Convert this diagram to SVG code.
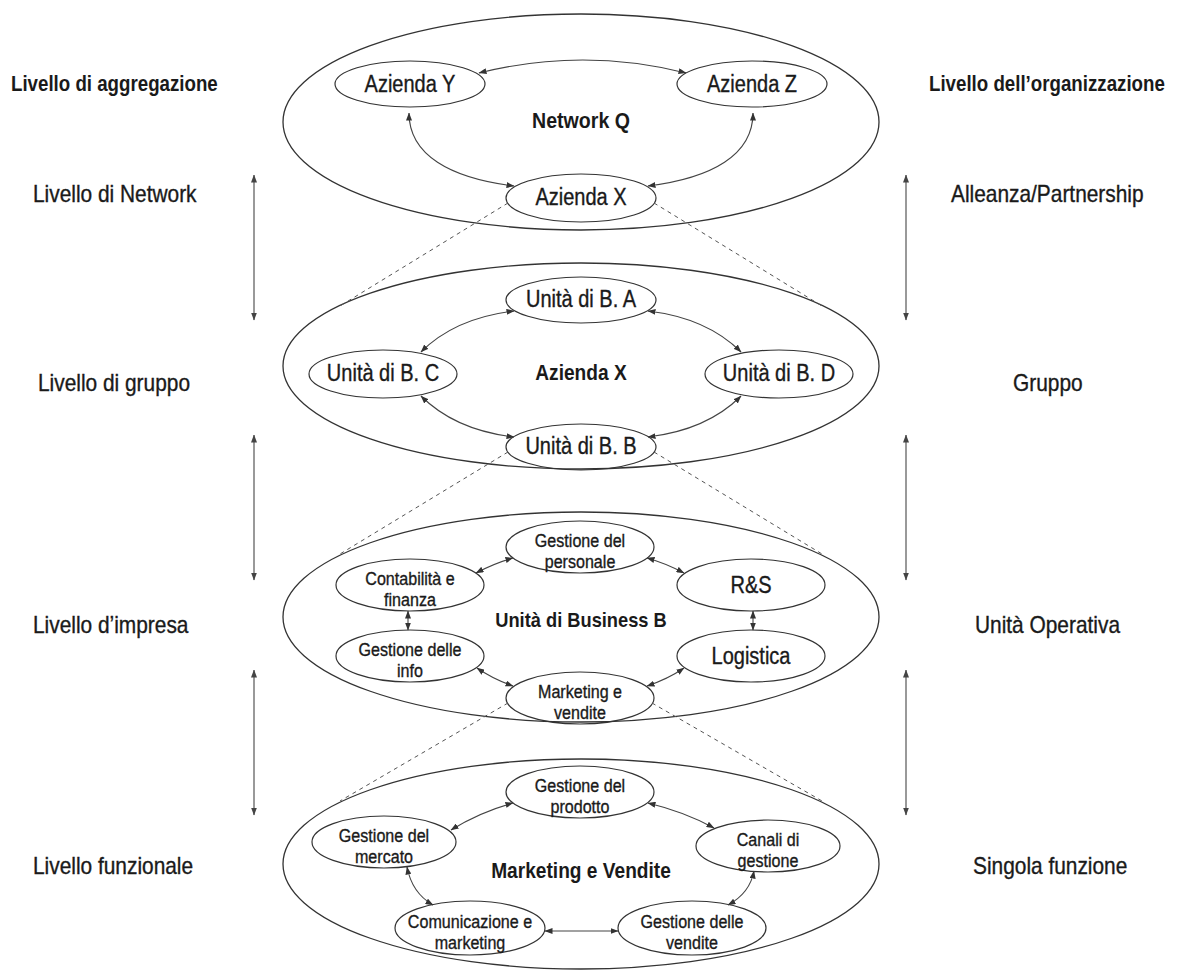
<svg xmlns="http://www.w3.org/2000/svg" width="1177" height="976" viewBox="0 0 1177 976">
  <defs>
    <marker id="ah" viewBox="0 0 8 6" refX="7.5" refY="3" markerWidth="8" markerHeight="6" markerUnits="userSpaceOnUse" orient="auto-start-reverse">
      <path d="M0,0 L8,3 L0,6 z" fill="#333"/>
    </marker>
    <marker id="ahs" viewBox="0 0 8 6" refX="7.5" refY="3" markerWidth="8" markerHeight="6" markerUnits="userSpaceOnUse" orient="auto-start-reverse">
      <path d="M0,0 L8,3 L0,6 z" fill="#444"/>
    </marker>
  </defs>
  <style>
    text { font-family: "Liberation Sans", Arial, sans-serif; fill: #1a1a1a; }
    .n, .s, .lab { stroke: #1a1a1a; stroke-width: 0.35; }
    .n { font-size: 23px; text-anchor: middle; }
    .s { font-size: 18.5px; text-anchor: middle; }
    .t { font-size: 22px; font-weight: bold; text-anchor: middle; }
    .lab { font-size: 24px; }
    .hd { font-size: 21.5px; font-weight: bold; }
    .ring { fill: none; stroke: #333; stroke-width: 1.3; }
    .node { fill: none; stroke: #333; stroke-width: 1.2; }
    .link { fill: none; stroke: #444; stroke-width: 1.1; marker-start: url(#ah); marker-end: url(#ah); }
    .dash { fill: none; stroke: #555; stroke-width: 1; stroke-dasharray: 4 4; }
    .side { fill: none; stroke: #999; stroke-width: 2; marker-start: url(#ahs); marker-end: url(#ahs); }
  </style>
  <rect width="1177" height="976" fill="#fff"/>

  <!-- column headings and level names -->
  <g id="labels-left">
    <text class="hd" transform="translate(11 91) scale(.87 1)">Livello di aggregazione</text>
    <text class="lab" transform="translate(33 202) scale(.87 1)">Livello di Network</text>
    <text class="lab" transform="translate(38 391) scale(.87 1)">Livello di gruppo</text>
    <text class="lab" transform="translate(33 633) scale(.87 1)">Livello d’impresa</text>
    <text class="lab" transform="translate(33 874) scale(.87 1)">Livello funzionale</text>
  </g>
  <g id="labels-right">
    <text class="hd" transform="translate(929 91) scale(.87 1)">Livello dell’organizzazione</text>
    <text class="lab" transform="translate(951 202) scale(.87 1)">Alleanza/Partnership</text>
    <text class="lab" transform="translate(1013 391) scale(.87 1)">Gruppo</text>
    <text class="lab" transform="translate(975 633) scale(.87 1)">Unità Operativa</text>
    <text class="lab" transform="translate(973 874) scale(.87 1)">Singola funzione</text>
  </g>

  <!-- level 1: network -->
  <g id="network-q">
    <ellipse class="ring" cx="581" cy="122" rx="298" ry="108"/>
    <text class="t" transform="translate(581 128) scale(.89 1)">Network Q</text>
  </g>
  <g id="azienda-y">
    <ellipse class="node" cx="410" cy="84" rx="75" ry="23"/>
    <text class="n" transform="translate(410 92) scale(.87 1)">Azienda Y</text>
  </g>
  <g id="azienda-z">
    <ellipse class="node" cx="752" cy="84" rx="75" ry="23"/>
    <text class="n" transform="translate(752 92) scale(.87 1)">Azienda Z</text>
  </g>
  <g id="azienda-x-node">
    <ellipse class="node" cx="581" cy="198" rx="75" ry="24"/>
    <text class="n" transform="translate(581 205) scale(.87 1)">Azienda X</text>
  </g>

  <!-- level 2: group -->
  <g id="azienda-x">
    <ellipse class="ring" cx="581" cy="366" rx="298" ry="103"/>
    <text class="t" transform="translate(581 380) scale(.87 1)">Azienda X</text>
  </g>
  <g id="ub-a">
    <ellipse class="node" cx="581" cy="300" rx="75" ry="23"/>
    <text class="n" transform="translate(581 307) scale(.87 1)">Unità di B. A</text>
  </g>
  <g id="ub-c">
    <ellipse class="node" cx="383" cy="374" rx="74" ry="24"/>
    <text class="n" transform="translate(383 381) scale(.87 1)">Unità di B. C</text>
  </g>
  <g id="ub-d">
    <ellipse class="node" cx="779" cy="374" rx="74" ry="24"/>
    <text class="n" transform="translate(779 381) scale(.87 1)">Unità di B. D</text>
  </g>
  <g id="ub-b">
    <ellipse class="node" cx="581" cy="447" rx="75" ry="23"/>
    <text class="n" transform="translate(581 454) scale(.87 1)">Unità di B. B</text>
  </g>

  <!-- level 3: business unit -->
  <g id="unita-business-b">
    <ellipse class="ring" cx="581" cy="617" rx="298" ry="105"/>
    <text class="t" style="font-size:21px" transform="translate(581 627) scale(.87 1)">Unità di Business B</text>
  </g>
  <g id="gestione-personale">
    <ellipse class="node" cx="580" cy="547" rx="74" ry="26"/>
    <text class="s" transform="translate(580 547) scale(.87 1)">Gestione del</text>
    <text class="s" transform="translate(580 568) scale(.87 1)">personale</text>
  </g>
  <g id="contabilita">
    <ellipse class="node" cx="410" cy="585" rx="74" ry="26"/>
    <text class="s" transform="translate(410 585) scale(.87 1)">Contabilità e</text>
    <text class="s" transform="translate(410 606) scale(.87 1)">finanza</text>
  </g>
  <g id="r-s">
    <ellipse class="node" cx="751" cy="585" rx="74" ry="26"/>
    <text class="n" transform="translate(751 593) scale(.87 1)">R&amp;S</text>
  </g>
  <g id="gestione-info">
    <ellipse class="node" cx="410" cy="656" rx="74" ry="26"/>
    <text class="s" transform="translate(410 656) scale(.87 1)">Gestione delle</text>
    <text class="s" transform="translate(410 677) scale(.87 1)">info</text>
  </g>
  <g id="logistica">
    <ellipse class="node" cx="751" cy="656" rx="74" ry="26"/>
    <text class="n" transform="translate(751 664) scale(.87 1)">Logistica</text>
  </g>
  <g id="marketing-vendite-node">
    <ellipse class="node" cx="580" cy="698" rx="74" ry="26"/>
    <text class="s" transform="translate(580 698) scale(.87 1)">Marketing e</text>
    <text class="s" transform="translate(580 719) scale(.87 1)">vendite</text>
  </g>

  <!-- level 4: function -->
  <g id="marketing-vendite">
    <ellipse class="ring" cx="581" cy="864" rx="298" ry="105"/>
    <text class="t" transform="translate(581 878) scale(.87 1)">Marketing e Vendite</text>
  </g>
  <g id="gestione-prodotto">
    <ellipse class="node" cx="580" cy="792" rx="74" ry="26"/>
    <text class="s" transform="translate(580 792) scale(.87 1)">Gestione del</text>
    <text class="s" transform="translate(580 813) scale(.87 1)">prodotto</text>
  </g>
  <g id="gestione-mercato">
    <ellipse class="node" cx="384" cy="842" rx="72" ry="26"/>
    <text class="s" transform="translate(384 842) scale(.87 1)">Gestione del</text>
    <text class="s" transform="translate(384 863) scale(.87 1)">mercato</text>
  </g>
  <g id="canali-gestione">
    <ellipse class="node" cx="768" cy="846" rx="72" ry="26"/>
    <text class="s" transform="translate(768 846) scale(.87 1)">Canali di</text>
    <text class="s" transform="translate(768 867) scale(.87 1)">gestione</text>
  </g>
  <g id="comunicazione">
    <ellipse class="node" cx="470" cy="928" rx="75" ry="27"/>
    <text class="s" transform="translate(470 928) scale(.87 1)">Comunicazione e</text>
    <text class="s" transform="translate(470 949) scale(.87 1)">marketing</text>
  </g>
  <g id="gestione-vendite">
    <ellipse class="node" cx="692" cy="928" rx="74" ry="27"/>
    <text class="s" transform="translate(692 928) scale(.87 1)">Gestione delle</text>
    <text class="s" transform="translate(692 949) scale(.87 1)">vendite</text>
  </g>

  <!-- connectors -->
  <g id="connectors">
    <!-- level 1 -->
    <path class="link" d="M479,73 Q583,47 686,73"/>
    <path class="link" d="M409,113 C409,155 450,178 514,186"/>
    <path class="link" d="M753,113 C753,155 712,178 648,186"/>
    <!-- level 2 -->
    <path class="link" d="M514,311 Q455,318 421,352"/>
    <path class="link" d="M648,311 Q707,318 741,352"/>
    <path class="link" d="M421,396 Q455,430 514,437"/>
    <path class="link" d="M741,396 Q707,430 648,437"/>
    <!-- level 3 -->
    <path class="link" d="M513,558 Q495,563 476,573"/>
    <path class="link" d="M647,558 Q665,563 684,573"/>
    <path class="link" d="M408,611 L408,630"/>
    <path class="link" d="M753,611 L753,630"/>
    <path class="link" d="M477,668 Q493,679 513,686"/>
    <path class="link" d="M684,668 Q668,679 647,686"/>
    <!-- level 4 -->
    <path class="link" d="M513,803 Q480,812 451,830"/>
    <path class="link" d="M648,803 Q685,812 714,828"/>
    <path class="link" d="M407,867 Q412,893 433,905"/>
    <path class="link" d="M754,871 Q750,893 728,905"/>
    <path class="link" d="M545,931 L618,931"/>
    <!-- zoom lines between levels -->
    <path class="dash" d="M508,203 L340,306"/>
    <path class="dash" d="M654,203 L822,306"/>
    <path class="dash" d="M508,452 L340,554"/>
    <path class="dash" d="M654,452 L822,554"/>
    <path class="dash" d="M508,703 L340,801"/>
    <path class="dash" d="M652,703 L822,801"/>
    <!-- side scale arrows -->
    <path class="side" d="M254,175 L254,320"/>
    <path class="side" d="M254,435 L254,580"/>
    <path class="side" d="M254,670 L254,815"/>
    <path class="side" d="M906,175 L906,320"/>
    <path class="side" d="M906,435 L906,580"/>
    <path class="side" d="M906,670 L906,815"/>
  </g>
</svg>
